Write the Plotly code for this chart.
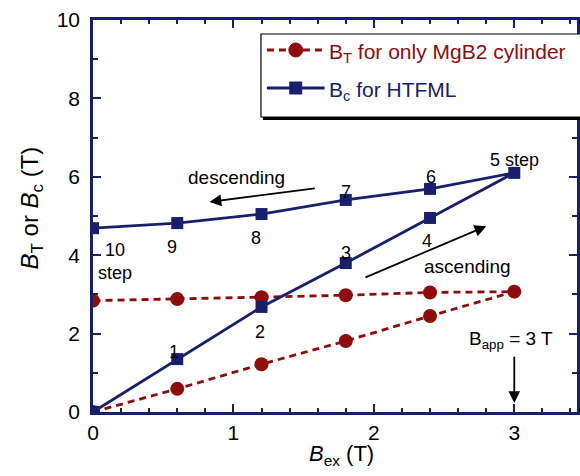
import plotly.graph_objects as go

# Field steps: ascending 0 -> 3 T, then descending back to 0 T
b_ex = [0.0, 0.6, 1.2, 1.8, 2.4, 3.0, 2.4, 1.8, 1.2, 0.6, 0.0]
# Trapped field of the bare MgB2 cylinder
b_t = [0.0, 0.59, 1.22, 1.81, 2.45, 3.07, 3.05, 2.98, 2.93, 2.88, 2.84]
# Central field of the HTFML
b_c = [0.0, 1.35, 2.68, 3.80, 4.95, 6.10, 5.69, 5.41, 5.05, 4.82, 4.69]
step_labels = ["1", "2", "3", "4", "5 step", "6", "7", "8", "9", "10"]

RED = "#8e0c0c"
NAVY = "#18206e"
FONT = "Liberation Sans, Arial, sans-serif"

# plot area in pixels
L, R, T, B = 93, 580, 20, 412
W, H = 580, 476


def px(xp, yp):
    return (xp - L) / (R - L), (B - yp) / (B - T)


fig = go.Figure()
fig.add_trace(go.Scatter(
    x=b_ex, y=b_t, mode="lines+markers", showlegend=False,
    line=dict(color=RED, width=2.8, dash="7px,5px"),
    marker=dict(symbol="circle", size=14, color=RED)))
fig.add_trace(go.Scatter(
    x=b_ex, y=b_c, mode="lines+markers", showlegend=False,
    line=dict(color=NAVY, width=2.8),
    marker=dict(symbol="square", size=12, color=NAVY)))

# step number positions (data coordinates)
step_pos = [(0.58, 1.53), (1.19, 2.04), (1.80, 4.06), (2.38, 4.36), (3.0, 6.43),
            (2.41, 6.0), (1.80, 5.61), (1.16, 4.44), (0.56, 4.21), (0.155, 4.13)]
ann = []
for (sx, sy), lab in zip(step_pos, step_labels):
    ann.append(dict(x=sx, y=sy, text=lab, showarrow=False,
                    font=dict(size=18, color="black", family=FONT)))
ann.append(dict(x=0.155, y=3.55, text="step", showarrow=False,
                font=dict(size=18, color="black", family=FONT)))
ann.append(dict(x=1.02, y=5.97, text="descending", showarrow=False,
                font=dict(size=19, color="black", family=FONT)))
ann.append(dict(x=2.67, y=3.70, text="ascending", showarrow=False,
                font=dict(size=19, color="black", family=FONT)))
ann.append(dict(x=2.98, y=1.84, text="B<sub>app</sub> = 3 T", showarrow=False,
                font=dict(size=19, color="black", family=FONT)))

# direction arrows
for (hx, hy, tx, ty) in [(0.83, 5.36, 1.59, 5.71), (2.80, 4.74, 1.93, 3.42),
                         (3.0, 0.23, 3.0, 1.45)]:
    ann.append(dict(x=hx, y=hy, ax=tx, ay=ty, xref="x", yref="y",
                    axref="x", ayref="y", text="", showarrow=True,
                    arrowhead=2, arrowsize=1.3, arrowwidth=1.8, arrowcolor="black"))

# axis titles
ann.append(dict(x=(343 - L) / (R - L), y=(B - 455) / (B - T), xref="paper", yref="paper",
                xanchor="center", yanchor="middle",
                text="<i>B</i><sub>ex</sub> (T)", showarrow=False,
                font=dict(size=22, color="black", family=FONT)))
ann.append(dict(x=(31 - L) / (R - L), y=(B - 208) / (B - T), xref="paper", yref="paper",
                xanchor="center", yanchor="middle",
                text="<i>B</i><sub>T</sub> or <i>B</i><sub>c</sub> (T)", showarrow=False,
                textangle=-90, font=dict(size=24, color="black", family=FONT)))

# legend box drawn by hand
shapes = []
x0, y0 = px(262, 34)
x1, y1 = px(590, 117)
sx0, sy0 = px(264, 37)
sx1, sy1 = px(592, 120)
shapes.append(dict(type="rect", xref="paper", yref="paper", x0=sx0, y0=sy0, x1=sx1, y1=sy1,
                   fillcolor="black", line=dict(width=0), layer="above"))
shapes.append(dict(type="rect", xref="paper", yref="paper", x0=x0, y0=y0, x1=x1, y1=y1,
                   fillcolor="white", line=dict(color="black", width=1.2), layer="above"))
lx0, ly1 = px(268, 50)
lx1, _ = px(326, 50)
shapes.append(dict(type="line", xref="paper", yref="paper", x0=lx0, y0=ly1, x1=lx1, y1=ly1,
                   line=dict(color=RED, width=2.8, dash="7px,5px"), layer="above"))
cx0, cy0 = px(290, 57)
cx1, cy1 = px(304, 43)
shapes.append(dict(type="circle", xref="paper", yref="paper", x0=cx0, y0=cy0, x1=cx1, y1=cy1,
                   fillcolor=RED, line=dict(color=RED, width=1), layer="above"))
_, ly2 = px(268, 88)
shapes.append(dict(type="line", xref="paper", yref="paper", x0=lx0, y0=ly2, x1=lx1, y1=ly2,
                   line=dict(color=NAVY, width=2.8), layer="above"))
qx0, qy0 = px(291, 94)
qx1, qy1 = px(303, 82)
shapes.append(dict(type="rect", xref="paper", yref="paper", x0=qx0, y0=qy0, x1=qx1, y1=qy1,
                   fillcolor=NAVY, line=dict(color=NAVY, width=1), layer="above"))
tx, ty1 = px(328, 53)
_, ty2 = px(328, 91)
ann.append(dict(x=tx, y=ty1, xref="paper", yref="paper", xanchor="left", yanchor="middle",
                text="B<sub>T</sub> for only MgB2 cylinder", showarrow=False,
                font=dict(size=21, color=RED, family=FONT)))
ann.append(dict(x=tx, y=ty2, xref="paper", yref="paper", xanchor="left", yanchor="middle",
                text="B<sub>c</sub> for HTFML", showarrow=False,
                font=dict(size=21, color=NAVY, family=FONT)))

axis_common = dict(showline=True, linecolor=NAVY, linewidth=2.5, mirror="allticks",
                   ticks="inside", tickcolor=NAVY, tickwidth=2, ticklen=8,
                   showgrid=False, zeroline=False,
                   tickfont=dict(size=21, color="black", family=FONT))

fig.update_layout(
    width=W, height=H,
    margin=dict(l=L, r=W - R, t=T, b=H - B),
    paper_bgcolor="white", plot_bgcolor="white",
    xaxis=dict(range=[0, (R - L) / 141.3], dtick=1, tick0=0,
               minor=dict(ticks="inside", dtick=0.2, ticklen=4, tickcolor=NAVY, tickwidth=1.5),
               ticklabelstandoff=0, **axis_common),
    yaxis=dict(range=[0, 10], dtick=2, tick0=0,
               minor=dict(ticks="inside", dtick=1, ticklen=5, tickcolor=NAVY, tickwidth=1.5),
               ticklabelstandoff=6, **axis_common),
    annotations=ann, shapes=shapes, showlegend=False,
)

fig.write_html("out.html")
